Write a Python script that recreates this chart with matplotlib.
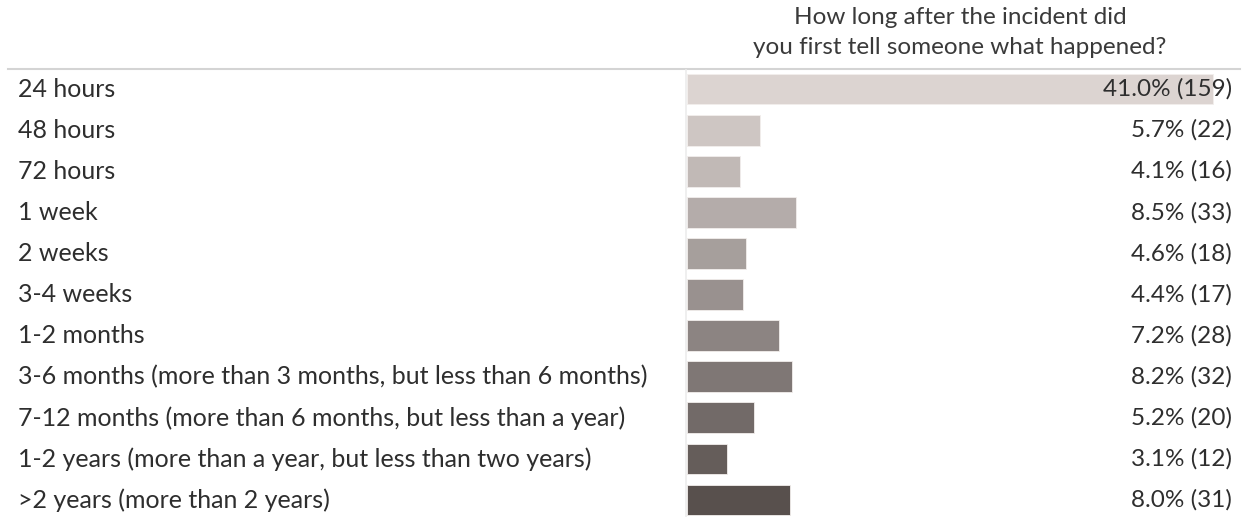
import matplotlib
matplotlib.use("Agg")
import matplotlib.pyplot as plt
from matplotlib.lines import Line2D

plt.rcParams['font.family'] = ['Lato', 'DejaVu Sans']

CATEGORIES = [
    "24 hours",
    "48 hours",
    "72 hours",
    "1 week",
    "2 weeks",
    "3-4 weeks",
    "1-2 months",
    "3-6 months (more than 3 months, but less than 6 months)",
    "7-12 months (more than 6 months, but less than a year)",
    "1-2 years (more than a year, but less than two years)",
    ">2 years (more than 2 years)",
]
PERCENTS = [41.0, 5.7, 4.1, 8.5, 4.6, 4.4, 7.2, 8.2, 5.2, 3.1, 8.0]
COUNTS = [159, 22, 16, 33, 18, 17, 28, 32, 20, 12, 31]
COLORS = ["#dcd4d1", "#cec6c3", "#c1b9b6", "#b4acaa", "#a69f9c", "#99918f",
          "#8c8482", "#7f7775", "#726a68", "#655d5a", "#58504d"]

TITLE_LINES = ["How long after the incident did", "you first tell someone what happened?"]

W, H = 1245, 517
FS = 17.5
fig = plt.figure(figsize=(W / 100, H / 100), dpi=100)

# bar pane
row_h = 41.1
top = 68.5
bottom = top + row_h * len(CATEGORIES)
ax = fig.add_axes([687 / W, (H - bottom) / H, (1240 - 687) / W, (bottom - top) / H])
ax.set_xlim(0, 41.0 * 553 / 526)
ax.set_ylim(len(CATEGORIES) - 0.5, -0.5)
ax.axis('off')

ys = list(range(len(CATEGORIES)))
ax.barh(ys, PERCENTS, height=0.75, color=COLORS, edgecolor="#f2eeec", linewidth=0.6)

for y, p, c in zip(ys, PERCENTS, COUNTS):
    ax.annotate(f"{p:.1f}% ({c})", xy=(1, y), xycoords=('axes fraction', 'data'),
                xytext=(-6, 0), textcoords='offset points', ha='right', va='center',
                fontsize=FS, color="#2e2e2e")

# row labels
for y, lab in zip(ys, CATEGORIES):
    yc = top + row_h * y + row_h / 2
    fig.text(18 / W, 1 - yc / H, lab, ha='left', va='center', fontsize=18, color="#2e2e2e")

# header title
for yc, line in zip([18, 47], TITLE_LINES):
    fig.text(960 / W, 1 - yc / H, line, ha='center', va='center', fontsize=FS, color="#3a3a3a")

# separators
fig.add_artist(Line2D([8 / W, 1240 / W], [1 - 69 / H, 1 - 69 / H], color="#d4d4d4", lw=1.5))
fig.add_artist(Line2D([686 / W, 686 / W], [1 - 70 / H, 0], color="#ececec", lw=1.2))

fig.savefig("out.png", dpi=100)
